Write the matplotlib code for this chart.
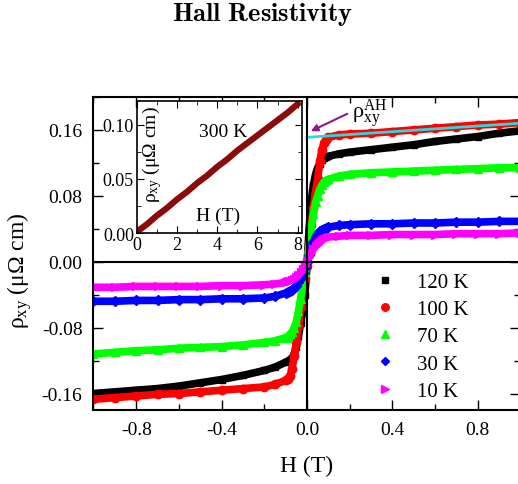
import numpy as np
import matplotlib
matplotlib.use('Agg')
from matplotlib import pyplot as plt
from matplotlib.ticker import MultipleLocator

plt.rcParams['font.family'] = ['Liberation Serif', 'DejaVu Serif']
plt.rcParams['mathtext.fontset'] = 'custom'
plt.rcParams['mathtext.rm'] = 'Liberation Serif'
plt.rcParams['mathtext.it'] = 'Liberation Serif:italic'

# field values (T), shared by all temperatures
H = [-1.0, -0.9, -0.8, -0.7, -0.6, -0.5, -0.4, -0.3, -0.2, -0.15,
     -0.1, -0.09, -0.08, -0.07, -0.06, -0.05, -0.04, -0.03, -0.02, -0.01,
     0.0, 0.01, 0.02, 0.03, 0.04, 0.05, 0.06, 0.07, 0.08, 0.09,
     0.1, 0.15, 0.2, 0.3, 0.4, 0.5, 0.6, 0.7, 0.8, 0.9, 1.0]

rho_120K = [-0.160, -0.158, -0.156, -0.154, -0.151, -0.147, -0.143, -0.138, -0.132, -0.128,
            -0.122, -0.121, -0.119, -0.117, -0.112, -0.103, -0.090, -0.075, -0.060, -0.040,
            -0.005, 0.040, 0.074, 0.093, 0.106, 0.114, 0.119, 0.123, 0.126, 0.127,
            0.128, 0.131, 0.133, 0.136, 0.139, 0.142, 0.146, 0.149, 0.152, 0.156, 0.159]
rho_100K = [-0.167, -0.165, -0.163, -0.161, -0.160, -0.158, -0.156, -0.154, -0.152, -0.149,
            -0.144, -0.142, -0.139, -0.130, -0.115, -0.097, -0.078, -0.055, -0.035, -0.020,
            -0.005, 0.022, 0.045, 0.065, 0.085, 0.100, 0.122, 0.136, 0.144, 0.148,
            0.151, 0.154, 0.155, 0.156, 0.158, 0.160, 0.162, 0.164, 0.166, 0.167, 0.169]
rho_70K = [-0.112, -0.110, -0.108, -0.107, -0.105, -0.104, -0.103, -0.101, -0.098, -0.096,
           -0.092, -0.091, -0.088, -0.085, -0.080, -0.073, -0.060, -0.045, -0.028, -0.012,
           0.003, 0.018, 0.040, 0.058, 0.072, 0.080, 0.088, 0.093, 0.097, 0.099,
           0.100, 0.104, 0.106, 0.108, 0.109, 0.110, 0.111, 0.112, 0.113, 0.114, 0.114]
rho_30K = [-0.048, -0.048, -0.047, -0.047, -0.046, -0.046, -0.045, -0.045, -0.044, -0.042,
           -0.038, -0.037, -0.035, -0.034, -0.032, -0.029, -0.025, -0.020, -0.014, -0.007,
           0.000, 0.008, 0.016, 0.024, 0.030, 0.034, 0.037, 0.039, 0.040, 0.041,
           0.042, 0.044, 0.045, 0.046, 0.046, 0.047, 0.047, 0.048, 0.048, 0.049, 0.049]
rho_10K = [-0.031, -0.031, -0.030, -0.030, -0.030, -0.030, -0.029, -0.029, -0.028, -0.027,
           -0.025, -0.024, -0.023, -0.022, -0.021, -0.019, -0.016, -0.013, -0.009, -0.005,
           0.000, 0.006, 0.011, 0.016, 0.019, 0.022, 0.024, 0.026, 0.028, 0.029,
           0.030, 0.031, 0.032, 0.032, 0.033, 0.033, 0.033, 0.034, 0.034, 0.034, 0.035]

series = [('120 K', rho_120K, 'black', 's', 5),
          ('100 K', rho_100K, 'red', 'o', 6),
          ('70 K', rho_70K, '#00ff00', '^', 6),
          ('30 K', rho_30K, 'blue', 'D', 5),
          ('10 K', rho_10K, 'magenta', '>', 6)]

# anomalous Hall extrapolation line
AH_H = [0.0, 1.05]
AH_rho = [0.151, 0.169]

# inset: 300 K
H300 = [0, 0.5, 1, 1.5, 2, 2.5, 3, 3.5, 4, 4.5, 5, 5.5, 6, 6.5, 7, 7.5, 8]
rho300 = [0.001, 0.008, 0.016, 0.023, 0.031, 0.038, 0.046, 0.053, 0.061,
          0.068, 0.076, 0.083, 0.090, 0.097, 0.104, 0.111, 0.119]

fig = plt.figure(figsize=(5.18, 4.85), dpi=100)
ax = fig.add_axes([0.1805, 0.1526, 0.8243, 0.6454])

for lab, rho, col, mk, ms in series:
    ax.plot(H, rho, '-', color=col, lw=5.5, solid_capstyle='butt')
    ax.plot(H, rho, ls='none', marker=mk, color=col, ms=ms, label=lab)

ax.plot(AH_H, AH_rho, '-', color='#22dddd', lw=2)
ax.axhline(0, color='black', lw=1.5)
ax.axvline(0, color='black', lw=1.5)

ax.annotate('', xy=(0.006, 0.157), xytext=(0.2, 0.181),
            arrowprops=dict(arrowstyle='-|>', color='#8b1a8b', lw=1.5))
ax.text(0.213, 0.176, r'ρ$_{\rm xy}^{\rm AH}$', fontsize=16, va='baseline')

ax.set_xlim(-1, 1)
ax.set_ylim(-0.18, 0.2)
ax.xaxis.set_minor_locator(MultipleLocator(0.2))
ax.yaxis.set_minor_locator(MultipleLocator(0.04))
ax.set_xticks([-0.8, -0.4, 0.0, 0.4, 0.8])
ax.set_xticklabels(['-0.8', '-0.4', '0.0', '0.4', '0.8'])
ax.set_yticks([-0.16, -0.08, 0.0, 0.08, 0.16])
ax.set_yticklabels(['-0.16', '-0.08', '0.00', '0.08', '0.16'])
ax.tick_params(which='both', direction='in', top=True, right=True, labelsize=14, width=1)
ax.tick_params(which='major', length=7, pad=8)
ax.tick_params(which='minor', length=4)
for s in ax.spines.values():
    s.set_linewidth(1.5)

leg = ax.legend(loc='upper left', bbox_to_anchor=(0.615, 0.5), frameon=False,
                fontsize=15, handlelength=1.0, handletextpad=1.0, labelspacing=0.37,
                markerscale=0.9)

fig.text(20 / 518, 1 - 271 / 485, r'ρ$_{\rm xy}$ (μΩ cm)', rotation=90,
         ha='center', va='center', fontsize=17)
fig.text(307 / 518, 1 - 466 / 485, 'H (T)', ha='center', va='center', fontsize=17)
fig.text(262 / 518, 1 - 21 / 485, r'$\mathbf{Hall\ Resistivity}$', math_fontfamily='cm',
         ha='center', va='baseline', fontsize=19)

# inset
ins = fig.add_axes([0.264, 0.5175, 0.3185, 0.2728])
ins.plot(H300, rho300, '-', color='#8b0a0a', lw=4.5)
ins.set_xlim(0, 8.2)
ins.set_ylim(0, 0.122)
ins.xaxis.set_major_locator(MultipleLocator(2))
ins.xaxis.set_minor_locator(MultipleLocator(1))
ins.yaxis.set_minor_locator(MultipleLocator(0.025))
ins.set_yticks([0.0, 0.05, 0.10])
ins.set_yticklabels(['0.00', '0.05', '0.10'])
ins.tick_params(which='both', direction='in', top=True, right=True, labelsize=13, pad=2)
ins.tick_params(which='major', length=5)
ins.tick_params(which='minor', length=3)
for s in ins.spines.values():
    s.set_linewidth(1.2)
ins.text(0.093, 0.6, r'ρ$_{\rm xy}$ (μΩ cm)', rotation=90, transform=ins.transAxes,
         ha='center', va='center', fontsize=14)
ins.text(0.525, 0.77, '300 K', transform=ins.transAxes, ha='center', va='center', fontsize=14)
ins.text(0.49, 0.13, 'H (T)', transform=ins.transAxes, ha='center', va='center', fontsize=14)

fig.savefig('out.png', dpi=100)
